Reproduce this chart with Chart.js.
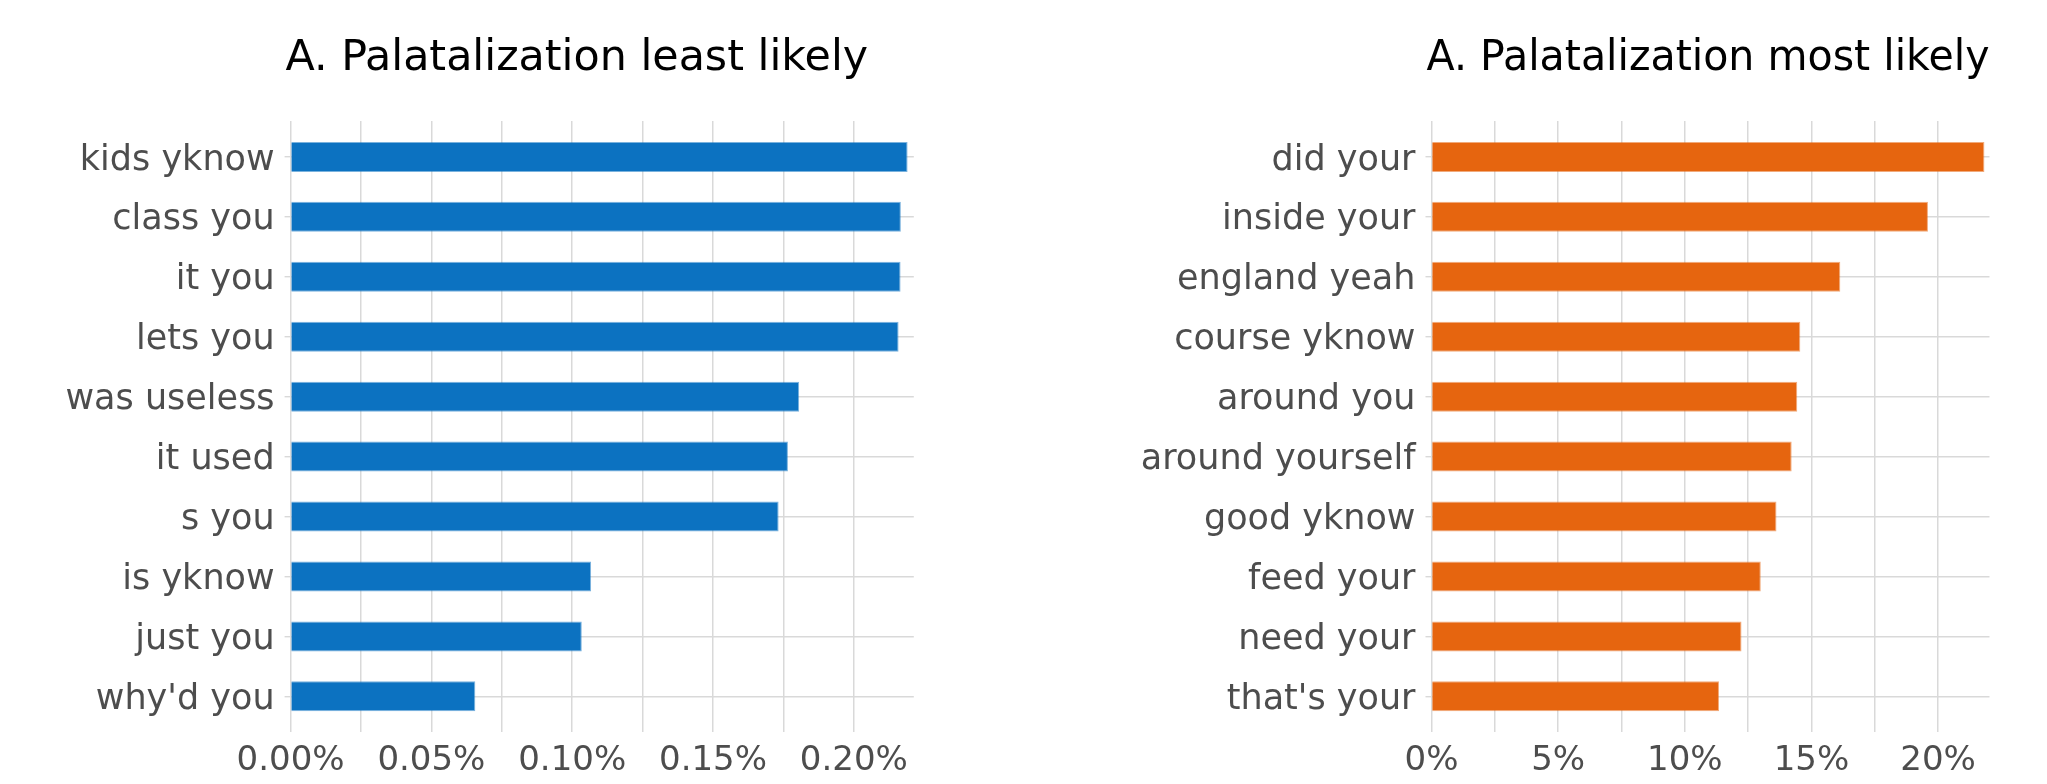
<!DOCTYPE html>
<html>
<head>
<meta charset="utf-8">
<script src="https://cdn.jsdelivr.net/npm/chart.js@4.4.1/dist/chart.umd.min.js"></script>
<style>
html,body{margin:0;padding:0;background:#ffffff;width:2047px;height:784px;overflow:hidden}
canvas{position:absolute;top:0}
#c1{left:0}
#c2{left:1024px}
</style>
</head>
<body>
<canvas id="c1" width="1024" height="784"></canvas>
<canvas id="c2" width="1023" height="784"></canvas>
<script>
// ---- data ----
const leftTitle = 'A. Palatalization least likely';
const leftCategories = ['kids yknow', 'class you', 'it you', 'lets you', 'was useless', 'it used', 's you', 'is yknow', 'just you', "why'd you"];
const leftValues = [0.2191, 0.2167, 0.2166, 0.2159, 0.1806, 0.1766, 0.1733, 0.1067, 0.1034, 0.0656]; // percent
const leftTickValues = [0, 0.025, 0.05, 0.075, 0.10, 0.125, 0.15, 0.175, 0.20];
const leftTickLabels = ['0.00%', '', '0.05%', '', '0.10%', '', '0.15%', '', '0.20%'];

const rightTitle = 'A. Palatalization most likely';
const rightCategories = ['did your', 'inside your', 'england yeah', 'course yknow', 'around you', 'around yourself', 'good yknow', 'feed your', 'need your', "that's your"];
const rightValues = [21.83, 19.60, 16.14, 14.56, 14.44, 14.22, 13.62, 13.00, 12.24, 11.35]; // percent
const rightTickValues = [0, 2.5, 5, 7.5, 10, 12.5, 15, 17.5, 20];
const rightTickLabels = ['0%', '', '5%', '', '10%', '', '15%', '', '20%'];

// ---- layout / style ----
const FONT = "'DejaVu Sans', 'Liberation Sans', sans-serif";
const GRID = '#d9d9d9';
const Y_FONT_SIZE = 35;
const Y_LABEL_GAP = 16; // distance from axis to right edge of category labels

function widestLabel(labels, size) {
  const c = document.createElement('canvas').getContext('2d');
  c.font = size + 'px ' + FONT;
  return Math.max(...labels.map(l => c.measureText(l).width));
}

function makeChart(id, title, cats, vals, tickVals, tickLabels, color, border, geom) {
  const ctx = document.getElementById(id).getContext('2d');
  const widest = widestLabel(cats, Y_FONT_SIZE);
  return new Chart(ctx, {
    type: 'bar',
    data: {
      datasets: [{
        data: vals.map((v, i) => ({ x: v, y: i })),
        backgroundColor: color,
        borderColor: border,
        borderWidth: 1,
        barPercentage: 0.5,
        categoryPercentage: 1.0
      }]
    },
    options: {
      indexAxis: 'y',
      responsive: false,
      devicePixelRatio: 1,
      animation: false,
      layout: { padding: { left: geom.padLeft, right: geom.padRight, top: 0, bottom: 0 } },
      plugins: {
        legend: { display: false },
        tooltip: { enabled: false },
        title: {
          display: true,
          text: title,
          align: 'start',
          color: '#000000',
          font: { family: FONT, size: 42.8, weight: 'normal', lineHeight: 1.2 },
          padding: { top: 33, bottom: 36.6 }
        }
      },
      scales: {
        x: {
          type: 'linear',
          min: 0,
          max: geom.xMax,
          bounds: 'data',
          offset: false,
          border: { display: false },
          grid: { color: GRID, lineWidth: 1.5, drawTicks: false, offset: false },
          ticks: {
            autoSkip: false,
            maxRotation: 0,
            minRotation: 0,
            padding: 8,
            color: '#4d4d4d',
            font: { family: FONT, size: 34 },
            callback: (v, i) => tickLabels[i]
          },
          afterBuildTicks: (axis) => { axis.ticks = tickVals.map(v => ({ value: v })); },
          afterFit: (s) => { s.height = 51.7; s.paddingLeft = 0; s.paddingRight = 0; }
        },
        y: {
          type: 'linear',
          reverse: true,
          min: -0.6,
          max: cats.length - 0.4,
          bounds: 'data',
          offset: false,
          border: { display: false },
          grid: { color: GRID, lineWidth: 1.4, drawTicks: true, tickLength: 6, offset: false },
          ticks: {
            autoSkip: false,
            mirror: true,
            crossAlign: 'far',
            padding: -(widest + Y_LABEL_GAP),
            labelOffset: 3.5,
            color: '#4d4d4d',
            font: { family: FONT, size: Y_FONT_SIZE },
            callback: (v) => cats[Math.round(v)]
          },
          afterBuildTicks: (axis) => { axis.ticks = cats.map((c, i) => ({ value: i })); },
          afterFit: (s) => { s.width = geom.axisWidth; s.paddingTop = 0; s.paddingBottom = 0; }
        }
      }
    }
  });
}

makeChart('c1', leftTitle, leftCategories, leftValues, leftTickValues, leftTickLabels,
  '#0c72c1', 'rgba(12,114,193,0.55)',
  { padLeft: 285.4, padRight: 110.2, axisWidth: 5.2, xMax: 0.2213 });

makeChart('c2', rightTitle, rightCategories, rightValues, rightTickValues, rightTickLabels,
  '#e6650f', 'rgba(230,101,15,0.55)',
  { padLeft: 402.5, padRight: 57.5, axisWidth: 5.0, xMax: 22.03 });
</script>
</body>
</html>
